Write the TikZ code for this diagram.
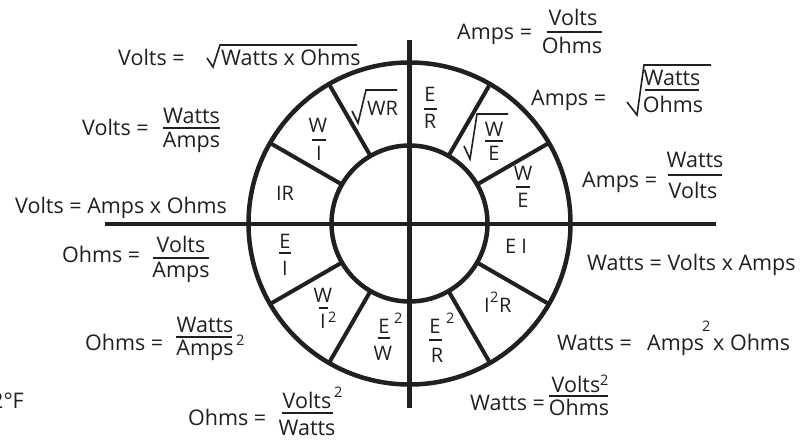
\documentclass[tikz,border=0pt]{standalone}
\usepackage{fontspec}
\setmainfont{Open Sans}
\definecolor{ink}{HTML}{231F20}
\begin{document}
\begin{tikzpicture}[x=1pt,y=-1pt,
  every node/.style={inner sep=0pt, text=ink},
  txt/.style={font=\fontsize{21.5}{26}\selectfont, anchor=base west},
  txe/.style={font=\fontsize{21.5}{26}\selectfont, anchor=base east},
  num/.style={font=\fontsize{21.5}{26}\selectfont, anchor=base},
  lbl/.style={font=\fontsize{20}{24}\selectfont, anchor=base},
  lbw/.style={font=\fontsize{20}{24}\selectfont, anchor=base west},
  sml/.style={font=\fontsize{14.5}{17}\selectfont, anchor=base west},
  heavy/.style={line width=4.5pt, draw=ink},
  divider/.style={line width=4pt, draw=ink},
  fbar/.style={line width=2.2pt, draw=ink},
  rad/.style={line width=1.6pt, draw=ink, line join=miter}]
\useasboundingbox (0,0) rectangle (810,440);
\fill[white] (0,0) rectangle (810,440);
\coordinate (C) at (409.5,223.5);
% wheel
\draw[heavy] (409.5,40) -- (409.5,408);
\draw[heavy] (105,224) -- (716,224);
\draw[heavy] (C) circle[radius=161pt];
\draw[heavy] (C) circle[radius=78pt];
\foreach \a in {30,60,120,150,210,240,300,330}
  \draw[divider,shift={(C)}] (\a:78pt) -- (\a:161pt);
% ---- inner labels
\node[lbl] (er1) at (430,101) {E};
\draw[fbar] (424,109) -- (437,109);
\node[lbl] (er2) at (430,128) {R};
\draw[rad] (464,146) -- (470,159) -- (477,114) -- (508,114);
\node[lbl] (swe1) at (494,136) {W};
\draw[fbar] (485,141) -- (503,141);
\node[lbl] (swe2) at (494,160) {E};
\node[lbl] (we1) at (523,180) {W};
\draw[fbar] (516,187) -- (530,187);
\node[lbl] (we2) at (523,207) {E};
\draw[rad] (352,111) -- (358,123) -- (366,90) -- (397,90);
\node[lbw] (swr) at (367,115) {WR};
\node[lbl] (wi1) at (318,132) {W};
\draw[fbar] (312,140) -- (326,140);
\node[lbl] (wi2) at (319,160) {I};
\node[lbl] (ir) at (285,200) {IR};
\node[lbl] (ei1) at (285,248) {E};
\draw[fbar] (279,253) -- (291,253);
\node[lbl] (ei2) at (285,275) {I};
\node[lbl] (wii1) at (323,302) {W};
\draw[fbar] (319,308) -- (328,308);
\node[lbl] (wii2) at (323,328) {I};
\node[sml] (wii3) at (328,322) {2};
\node[lbl] (eew1) at (384,333) {E};
\node[sml] (eew2) at (394,323) {2};
\draw[fbar] (378,338) -- (390,338);
\node[lbl] (eew3) at (383,360) {W};
\node[lbl] (eer1) at (435,333) {E};
\node[sml] (eer2) at (446,323) {2};
\draw[fbar] (429,340) -- (442,340);
\node[lbl] (eer3) at (437,362) {R};
\node[lbl] (iir1) at (487,312) {I};
\node[sml] (iir2) at (490,302) {2};
\node[lbw] (iir3) at (499,312) {R};
\node[lbl] (ei) at (516,253) {E I};
% ---- left formulas
\node[txt] (v1) at (118,65) {Volts =};
\draw[rad] (207,58) -- (213,67) -- (220,45) -- (357,45);
\node[txt] (v1b) at (221,65) {Watts x Ohms};
\node[txt] (v2) at (82,135) {Volts =};
\node[num] (v2n) at (191.5,123) {Watts};
\draw[fbar] (163,128) -- (220,128);
\node[num] (v2d) at (191.5,147) {Amps};
\node[txt] (v3) at (15,213) {Volts = Amps x Ohms};
\node[txt] (o1) at (62,262) {Ohms =};
\node[num] (o1n) at (181,252) {Volts};
\draw[fbar] (153,258) -- (209,258);
\node[num] (o1d) at (181,277) {Amps};
\node[txt] (o2) at (85,350) {Ohms =};
\node[num] (o2n) at (205,332) {Watts};
\draw[fbar] (176,337) -- (232,337);
\node[num] (o2d) at (205,355) {Amps};
\node[sml] (o2s) at (236,345) {2};
\node[txe] (temp) at (24,408) {2°F};
\node[txt] (o3) at (188,425) {Ohms =};
\node[num] (o3n) at (307,408) {Volts};
\node[sml] (o3s) at (334,397) {2};
\draw[fbar] (282,413) -- (333,413);
\node[num] (o3d) at (307,435) {Watts};
% ---- right formulas
\node[txt] (a1) at (457,39) {Amps =};
\node[num] (a1n) at (573,25) {Volts};
\draw[fbar] (547,32) -- (602,32);
\node[num] (a1d) at (572,53) {Ohms};
\node[txt] (a2) at (531,105) {Amps =};
\draw[rad] (627,102) -- (637,115) -- (644,65) -- (711,65);
\node[num] (a2n) at (672,85) {Watts};
\draw[fbar] (645,90) -- (699,90);
\node[num] (a2d) at (673,112) {Ohms};
\node[txt] (a3) at (582,187) {Amps =};
\node[num] (a3n) at (695,167) {Watts};
\draw[fbar] (668,175) -- (722,175);
\node[num] (a3d) at (693,198) {Volts};
\node[txt] (w1) at (587,270) {Watts = Volts x Amps};
\node[txt] (w2) at (557,350) {Watts =};
\node[txt] (w2b) at (647,350) {Amps};
\node[sml] (w2s) at (702,331) {2};
\node[txt] (w2c) at (713,350) {x Ohms};
\node[txt] (w3) at (470,410) {Watts =};
\node[num] (w3n) at (576,392) {Volts};
\node[sml] (w3s) at (600,385) {2};
\draw[fbar] (549,396) -- (608,396);
\node[num] (w3d) at (579,415) {Ohms};
\end{tikzpicture}
\end{document}
